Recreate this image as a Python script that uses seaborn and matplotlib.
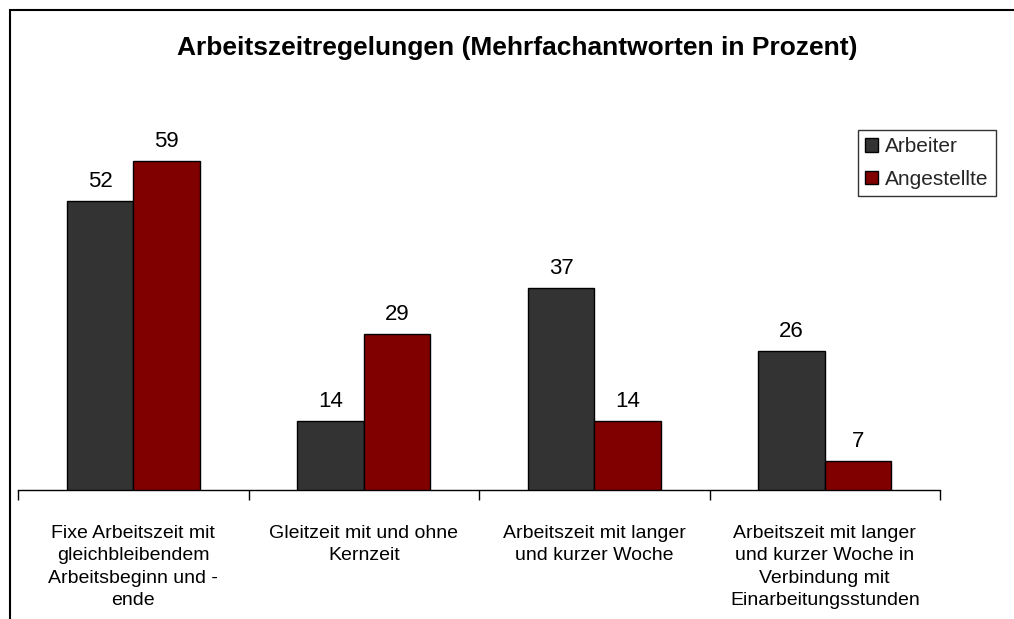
import matplotlib
matplotlib.use("Agg")
import matplotlib.pyplot as plt
from matplotlib.patches import Rectangle
import seaborn as sns
import pandas as pd

categories = [
    "Fixe Arbeitszeit mit\ngleichbleibendem\nArbeitsbeginn und -\nende",
    "Gleitzeit mit und ohne\nKernzeit",
    "Arbeitszeit mit langer\nund kurzer Woche",
    "Arbeitszeit mit langer\nund kurzer Woche in\nVerbindung mit\nEinarbeitungsstunden",
]
series_names = ["Arbeiter", "Angestellte"]
arbeiter = [52, 14, 37, 26]
angestellte = [59, 29, 14, 7]
colors = ["#333333", "#800000"]
title = "Arbeitszeitregelungen (Mehrfachantworten in Prozent)"

sns.set_theme(style="white")
plt.rcParams["font.family"] = ["Liberation Sans", "DejaVu Sans"]

df = pd.DataFrame({
    "cat": categories * 2,
    "series": [series_names[0]] * 4 + [series_names[1]] * 4,
    "value": arbeiter + angestellte,
})

W, H = 1014, 619
fig = plt.figure(figsize=(W / 100, H / 100), dpi=100)
ax = fig.add_axes([18 / W, 1 - 490 / H, (940 - 18) / W, (490 - 100) / H])

sns.barplot(data=df, x="cat", y="value", hue="series", order=categories,
            hue_order=series_names, palette=colors, saturation=1, width=0.577,
            edgecolor="black", linewidth=1, ax=ax, legend=False)

ax.set_ylim(2, 69.5)
ax.set_xlim(-0.5, 3.5)
for s in ["top", "right", "left"]:
    ax.spines[s].set_visible(False)
ax.spines["bottom"].set_color("black")
ax.spines["bottom"].set_linewidth(1)
ax.set_yticks([])
ax.set_xlabel("")
ax.set_ylabel("")
ax.set_xticks(range(len(categories)))
ax.set_xticklabels(categories, fontsize=14, linespacing=1.43, color="black")
ax.set_xticks([-0.5, 0.5, 1.5, 2.5, 3.5], minor=True)
ax.tick_params(axis="x", which="major", bottom=True, length=0, pad=25)
ax.tick_params(axis="x", which="minor", bottom=True, length=7, width=1,
               color="black", direction="out")

for cont in ax.containers:
    ax.bar_label(cont, fmt="%d", padding=6.5, fontsize=16, color="black")

handles = [Rectangle((0, 0), 1, 1, facecolor=c, edgecolor="black", linewidth=1) for c in colors]
leg = fig.legend(handles, series_names, loc="upper left",
                 bbox_to_anchor=(858 / W, 1 - 130 / H), fontsize=15,
                 frameon=True, fancybox=False, edgecolor="black",
                 handlelength=0.6, handleheight=0.6, handletextpad=0.35,
                 borderpad=0.35, labelspacing=0.65, borderaxespad=0)
leg.get_frame().set_linewidth(1)

fig.text(517 / W, 1 - 48 / H, title, ha="center", va="center",
         fontsize=19, fontweight="bold", color="black")

fig.patches.append(Rectangle((9.5 / W, -0.1), 1.2, 1 - 10.5 / H + 0.1,
                             transform=fig.transFigure, fill=False,
                             edgecolor="black", linewidth=1.5, clip_on=False))

fig.savefig("out.png", dpi=100)
